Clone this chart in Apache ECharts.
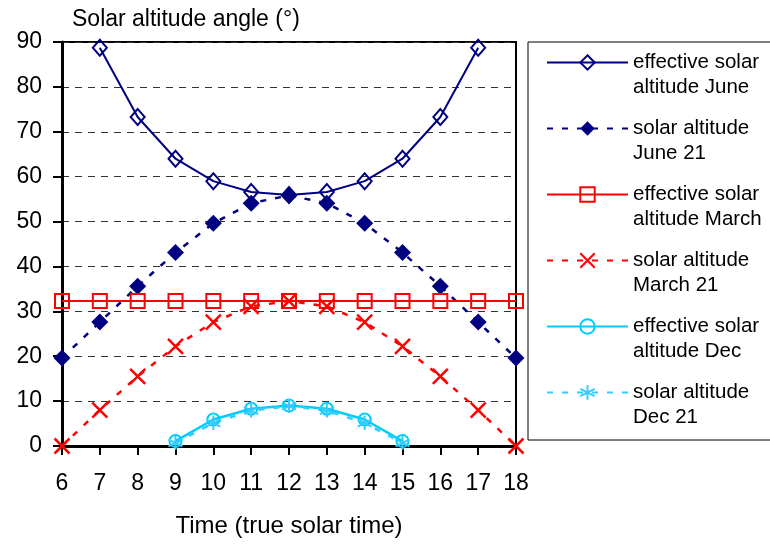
<!DOCTYPE html>
<html>
<head>
<meta charset="utf-8">
<script src="https://cdn.jsdelivr.net/npm/echarts@6/dist/echarts.min.js"></script>
<style>
  html, body { margin: 0; padding: 0; background: #fff; }
  #chart { width: 770px; height: 544px; }
</style>
</head>
<body>
<div id="chart"></div>
<script>
  // hours of true solar time
  const hours = ['6', '7', '8', '9', '10', '11', '12', '13', '14', '15', '16', '17', '18'];
  const yTicks = [0, 10, 20, 30, 40, 50, 60, 70, 80, 90];

  const effJune = [null, 88.7, 73.3, 64.0, 59.0, 56.6, 55.9, 56.6, 59.0, 64.0, 73.3, 88.7, null];
  const solJune = [19.6, 27.6, 35.6, 43.1, 49.6, 54.1, 55.8, 54.1, 49.6, 43.1, 35.6, 27.6, 19.6];
  const effMarch = [32.3, 32.3, 32.3, 32.3, 32.3, 32.3, 32.3, 32.3, 32.3, 32.3, 32.3, 32.3, 32.3];
  const solMarch = [0, 8.0, 15.5, 22.2, 27.6, 31.1, 32.3, 31.1, 27.6, 22.2, 15.5, 8.0, 0];
  const effDec = [null, null, null, 1.1, 5.9, 8.3, 9.0, 8.3, 5.9, 1.1, null, null, null];
  const solDec = [null, null, null, 0.7, 5.1, 7.9, 8.9, 7.9, 5.1, 0.7, null, null, null];

  const names = [
    'effective solar\naltitude June',
    'solar altitude\nJune 21',
    'effective solar\naltitude March',
    'solar altitude\nMarch 21',
    'effective solar\naltitude Dec',
    'solar altitude\nDec 21'
  ];

  const FONT = 'Liberation Sans, Arial, sans-serif';
  const crossPath = 'path://M0,0L10,10M0,10L10,0';
  const starPath = 'path://M5,0L5,10M0.7,2.5L9.3,7.5M0.7,7.5L9.3,2.5';

  let myChart = echarts.init(document.getElementById('chart'));
  myChart.setOption({
    animation: false,
    backgroundColor: '#fff',
    title: {
      text: 'Solar altitude angle (°)',
      left: 67,
      top: 3,
      textStyle: { fontFamily: FONT, fontSize: 23, fontWeight: 'normal', color: '#000' }
    },
    legend: {
      orient: 'vertical',
      left: 546,
      top: 25,
      padding: 0,
      itemGap: -9,
      itemWidth: 81,
      itemHeight: 18,
      data: names,
      // blank first line so the symbol lines up with the first text line
      formatter: function (name) {
        return '\n' + name;
      },
      textStyle: {
        fontFamily: FONT,
        fontSize: 20.5,
        color: '#000',
        lineHeight: 25
      }
    },
    graphic: [{
      type: 'rect',
      shape: { x: 528, y: 42, width: 260, height: 398 },
      style: { fill: 'none', stroke: '#000', lineWidth: 1 }
    }],
    grid: {
      left: 62,
      right: 254,
      top: 42,
      bottom: 98,
      show: true,
      borderColor: '#000',
      borderWidth: 2
    },
    xAxis: {
      type: 'category',
      data: hours,
      boundaryGap: false,
      name: 'Time (true solar time)',
      nameLocation: 'middle',
      nameGap: 68,
      nameTextStyle: { fontFamily: FONT, fontSize: 24, color: '#000' },
      axisLine: { lineStyle: { color: '#000', width: 3 } },
      axisTick: { show: true, length: 9, lineStyle: { color: '#000', width: 2 } },
      axisLabel: { fontFamily: FONT, fontSize: 23, color: '#000', margin: 26 }
    },
    yAxis: {
      type: 'value',
      min: yTicks[0],
      max: yTicks[yTicks.length - 1],
      interval: 10,
      axisLine: { show: true, lineStyle: { color: '#000', width: 3 } },
      axisTick: { show: true, length: 9, lineStyle: { color: '#000', width: 2 } },
      axisLabel: { fontFamily: FONT, fontSize: 23, color: '#000', margin: 20 },
      splitLine: { show: true, lineStyle: { color: '#333', type: [7, 6], width: 1 } }
    },
    series: [
      {
        name: names[0], type: 'line', data: effJune,
        symbol: 'diamond', symbolSize: [14, 16],
        lineStyle: { color: '#000080', width: 2 },
        itemStyle: { color: 'rgba(255,255,255,0)', borderColor: '#000080', borderWidth: 2 }
      },
      {
        name: names[1], type: 'line', data: solJune,
        symbol: 'diamond', symbolSize: 17,
        lineStyle: { color: '#000080', width: 2.5, type: [6, 9] },
        itemStyle: { color: '#000080' }
      },
      {
        name: names[2], type: 'line', data: effMarch,
        symbol: 'rect', symbolSize: 14,
        lineStyle: { color: '#ff0000', width: 2 },
        itemStyle: { color: 'rgba(255,255,255,0)', borderColor: '#ff0000', borderWidth: 2 }
      },
      {
        name: names[3], type: 'line', data: solMarch,
        symbol: crossPath, symbolSize: 15,
        lineStyle: { color: '#ff0000', width: 2.5, type: [6, 9] },
        itemStyle: { color: '#ff0000', borderColor: '#ff0000', borderWidth: 2.5 }
      },
      {
        name: names[4], type: 'line', data: effDec,
        symbol: 'circle', symbolSize: 12,
        lineStyle: { color: '#00ccff', width: 2.5 },
        itemStyle: { color: 'rgba(255,255,255,0)', borderColor: '#00ccff', borderWidth: 2 }
      },
      {
        name: names[5], type: 'line', data: solDec,
        symbol: starPath, symbolSize: 14,
        lineStyle: { color: '#33ccff', width: 2.5, type: [6, 9] },
        itemStyle: { color: '#33ccff', borderColor: '#33ccff', borderWidth: 2 }
      }
    ]
  });
</script>
</body>
</html>
